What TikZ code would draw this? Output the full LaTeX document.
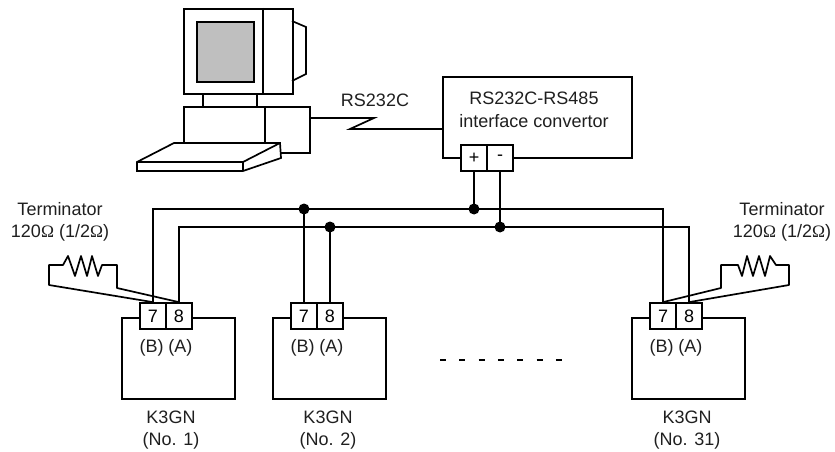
\documentclass[tikz,border=0pt]{standalone}
\usepackage{fontspec}
\setmainfont{Liberation Sans}
\newfontfamily\symb{Liberation Serif}
\newcommand{\ohm}{{\fontsize{17.5}{20}\selectfont\symb Ω}}
\tikzset{
  x=1pt,y=-1pt,
  line/.style={draw=black,line width=1.7pt,line join=miter},
  box/.style={line,fill=white,rectangle,inner sep=0pt,anchor=north west},
  term/.style={line,fill=white,rectangle,inner sep=0pt,minimum width=26pt,minimum height=26pt,font=\fontsize{18}{20}\selectfont},
  lbl/.style={inner sep=0pt,align=center,font=\fontsize{18}{22.5}\selectfont,text=black!88},
  junction/.style={circle,fill=black,inner sep=0pt,minimum size=11pt},
  devbox/.style={box,minimum width=113pt,minimum height=81pt},
}
\begin{document}
\begin{tikzpicture}
\useasboundingbox (0,0) rectangle (835,452);
% computer
\node[box,minimum width=109pt,minimum height=85pt] (monitor) at (183,8) {};
\coordinate (bumpA) at (292,21);
\coordinate (bumpB) at (306,27);
\coordinate (bumpC) at (306,74);
\coordinate (bumpD) at (292,81);
\draw[line] (bumpA) -- (bumpB) -- (bumpC) -- (bumpD);
\node[box,minimum width=57pt,minimum height=60pt,fill=black!25] (screen) at (196,21) {};
\draw[line,line width=2.4pt] (263,8) -- (263,93);
\node[box,minimum width=54pt,minimum height=13pt] (neck) at (202,93) {};
\node[box,minimum width=126pt,minimum height=46pt] (base) at (183,106) {};
\draw[line] (265,106) -- (265,143);
\path[line,fill=white] (174,143) -- (280,143) -- (281,158) -- (243,171) -- (137,171) -- (137,162) -- cycle;
\draw[line] (137,162) -- (243,162) -- (280,143);
\draw[line] (243,162) -- (243,171);
% converter
\node[box,minimum width=189pt,minimum height=81pt] (conv) at (442,76) {};
\node[lbl] at (534,110) {RS232C-RS485\\interface convertor};
\node[term] (plus) at (474,158) {+};
\node[term] (minus) at (500,158) {-};
% RS232C link
\coordinate (zzA) at (374,118);
\coordinate (zzB) at (350,129);
\draw[line] (base.east |- zzA) -- (zzA) -- (zzB) -- (conv.west |- zzB);
\node[lbl] at (375,100) {RS232C};
% devices
\node[devbox] (devA) at (121,317) {};
\node[devbox] (devB) at (272,317) {};
\node[devbox] (devC) at (631,317) {};
\node[term] (a7) at (153,316) {7};
\node[term] (a8) at (179,316) {8};
\node[term] (b7) at (304,316) {7};
\node[term] (b8) at (330,316) {8};
\node[term] (c7) at (663,316) {7};
\node[term] (c8) at (689,316) {8};
% junctions and bus
\node[junction] (j1) at (b7 |- 0,209) {};
\node[junction] (j2) at (b8 |- 0,227) {};
\node[junction] (j3) at (plus |- 0,209) {};
\node[junction] (j4) at (minus |- 0,227) {};
\draw[line] (a7.north) |- (j1.center) -- (j3.center) -| (c7.north);
\draw[line] (a8.north) |- (j2.center) -- (j4.center) -| (c8.north);
\draw[line] (j1.center) -- (b7.north);
\draw[line] (j2.center) -- (b8.north);
\draw[line] (plus.south) -- (j3.center);
\draw[line] (minus.south) -- (j4.center);
% terminators
\draw[line,line join=round] (a7.north) -- (49,285) -- (49,265) -- (63,265) -- (68,256) -- (75,276) -- (81,256) -- (87,276) -- (92,256) -- (98,276) -- (102,265) -- (117,265) -- (117,288) -- (a8.north);
\draw[line,line join=round] (c7.north) -- (721,288) -- (721,265) -- (738,265) -- (742,276) -- (747,256) -- (753,276) -- (759,256) -- (765,276) -- (770,256) -- (776,265) -- (789,265) -- (789,285) -- (c8.north);
\node[lbl] at (60,222) {Terminator\\120\ohm\ (1/2\ohm)};
\node[lbl] at (782,222) {Terminator\\120\ohm\ (1/2\ohm)};
% labels
\node[lbl] at (166,348) {(B) (A)};
\node[lbl] at (317,348) {(B) (A)};
\node[lbl] at (676,348) {(B) (A)};
\node[lbl] at (171,430) {K3GN\\(No. 1)};
\node[lbl] at (328,430) {K3GN\\(No. 2)};
\node[lbl] at (687,430) {K3GN\\(No. 31)};
% ellipsis
\draw[line,line width=2.2pt,dash pattern=on 6pt off 13.3pt] (440,360) -- (562,360);
\end{tikzpicture}
\end{document}
